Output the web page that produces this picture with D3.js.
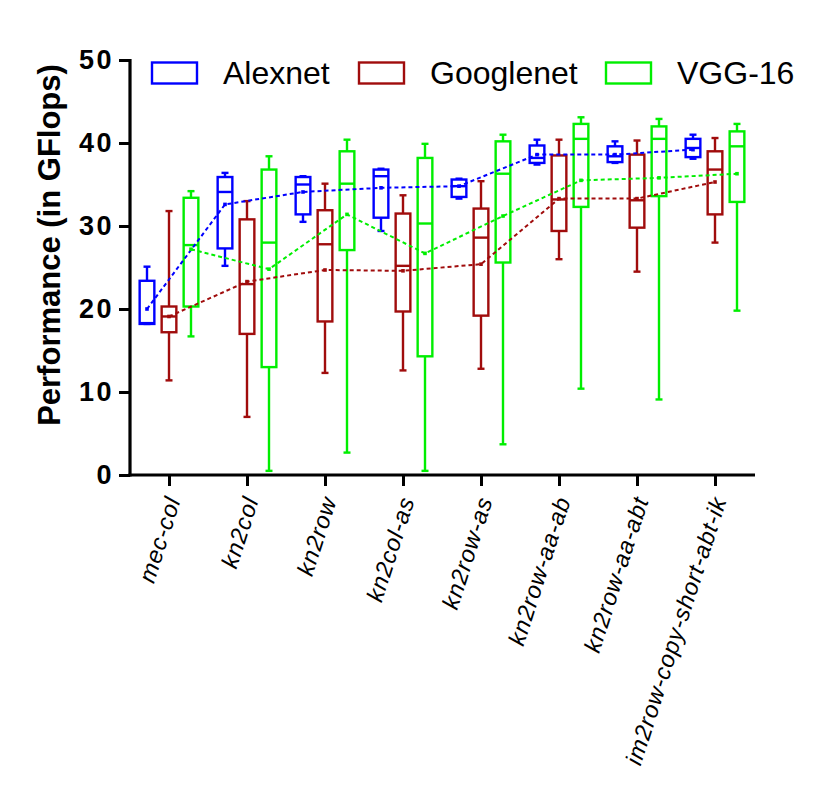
<!DOCTYPE html>
<html>
<head>
<meta charset="utf-8">
<script src="https://cdn.jsdelivr.net/npm/d3@7"></script>
<style>
  body { margin: 0; background: #fff; }
  text { font-family: "Liberation Sans", Arial, Helvetica, sans-serif; }
</style>
</head>
<body>
<svg width="830" height="796"></svg>
<script>
// categories along the x axis
const categories = ["mec-col", "kn2col", "kn2row", "kn2col-as", "kn2row-as", "kn2row-aa-ab", "kn2row-aa-abt", "im2row-copy-short-abt-ik"]
const seriesNames = ["Alexnet", "Googlenet", "VGG-16"]
const seriesColors = ["#0000ff", "#a00c0c", "#00ee00"]

// [whisker low, Q1, median, Q3, whisker high] per category
const alexnetBox = [[18.2, 18.2, 18.3, 23.4, 25.1], [25.2, 27.3, 34.1, 35.9, 36.4], [30.5, 31.4, 35.0, 35.9, 36.0], [29.4, 31.0, 36.0, 36.8, 36.9],
  [33.3, 33.5, 34.8, 35.6, 35.7], [37.4, 37.6, 38.2, 39.7, 40.4], [37.6, 37.7, 38.4, 39.6, 40.2], [38.1, 38.3, 39.4, 40.5, 41.0]]
const googlenetBox = [[11.4, 17.2, 19.1, 20.3, 31.8], [7.0, 17.0, 23.0, 30.8, 33.0], [12.3, 18.5, 27.8, 31.9, 35.1], [12.6, 19.7, 25.2, 31.5, 33.7],
  [12.8, 19.2, 28.6, 32.1, 35.4], [26.0, 29.4, 33.2, 38.5, 40.4], [24.5, 29.8, 33.1, 38.6, 40.3], [28.0, 31.4, 36.8, 39.0, 40.6]]
const vggBox = [[16.7, 20.3, 27.7, 33.4, 34.2], [0.5, 13.0, 28.0, 36.8, 38.4], [2.7, 27.1, 35.1, 39.0, 40.4], [0.5, 14.3, 30.3, 38.2, 39.9],
  [3.7, 25.6, 36.3, 40.2, 41.0], [10.4, 32.3, 40.5, 42.3, 43.1], [9.1, 33.6, 40.5, 42.0, 42.9], [19.8, 32.9, 39.6, 41.4, 42.3]]

// mean values (dashed lines)
const alexnetMean = [20.0, 32.6, 34.1, 34.6, 34.8, 38.6, 38.6, 39.2]
const googlenetMean = [19.1, 23.3, 24.7, 24.6, 25.4, 33.3, 33.3, 35.3]
const vggMean = [27.2, 24.8, 31.4, 26.7, 31.2, 35.5, 35.8, 36.3]

const yTicks = [0, 10, 20, 30, 40, 50]

const boxes = [alexnetBox, googlenetBox, vggBox]
const means = [alexnetMean, googlenetMean, vggMean]

const svg = d3.select("svg")

const x = d3.scalePoint().domain(categories).range([130, 754]).padding(0.5)
const offset = d3.scaleBand().domain(seriesNames).range([-33, 33])
const y = d3.scaleLinear().domain([0, 50]).range([475, 60])

const boxW = 14.7
const capW = 7

seriesNames.forEach((s, si) => {
  const g = svg.append("g").attr("stroke", seriesColors[si]).attr("stroke-width", 2.4).attr("fill", "none")
  boxes[si].forEach((b, i) => {
    const cx = x(categories[i]) + offset(s) + offset.bandwidth() / 2
    // whiskers
    g.append("line").attr("x1", cx).attr("x2", cx).attr("y1", y(b[3])).attr("y2", y(b[4]))
    g.append("line").attr("x1", cx).attr("x2", cx).attr("y1", y(b[1])).attr("y2", y(b[0]))
    g.append("line").attr("x1", cx - capW / 2).attr("x2", cx + capW / 2).attr("y1", y(b[4])).attr("y2", y(b[4]))
    g.append("line").attr("x1", cx - capW / 2).attr("x2", cx + capW / 2).attr("y1", y(b[0])).attr("y2", y(b[0]))
    // box
    g.append("rect")
      .attr("x", cx - boxW / 2).attr("y", y(b[3]))
      .attr("width", boxW).attr("height", y(b[1]) - y(b[3]))
    g.append("line").attr("x1", cx - boxW / 2).attr("x2", cx + boxW / 2).attr("y1", y(b[2])).attr("y2", y(b[2]))
  })
})

// dashed mean lines and markers on top
seriesNames.forEach((s, si) => {
  const cx = c => x(c) + offset(s) + offset.bandwidth() / 2
  const line = d3.line().x((d, i) => cx(categories[i])).y(d => y(d))
  svg.append("path")
    .attr("d", line(means[si]))
    .attr("fill", "none")
    .attr("stroke", seriesColors[si])
    .attr("stroke-width", 2)
    .attr("stroke-dasharray", "4,3")
  svg.append("g").selectAll("rect")
    .data(means[si])
    .enter().append("rect")
    .attr("x", (d, i) => cx(categories[i]) - 1.8)
    .attr("y", d => y(d) - 1.8)
    .attr("width", 3.6).attr("height", 3.6)
    .attr("fill", seriesColors[si])
})

// axes
const yAxis = svg.append("g")
  .attr("transform", "translate(130,0)")
  .call(d3.axisLeft(y).tickValues(yTicks).tickSize(11).tickPadding(5))
yAxis.select(".domain").attr("stroke-width", 3.2).attr("d", "M0," + 59 + "V" + 476.5)
yAxis.selectAll(".tick line").attr("stroke-width", 3)
yAxis.selectAll(".tick text")
  .attr("font-size", 27).attr("font-weight", "bold").attr("fill", "#000")
  .style("letter-spacing", "2.5px")

const xAxis = svg.append("g")
  .attr("transform", "translate(0,475)")
  .call(d3.axisBottom(x).tickSize(11).tickFormat(""))
xAxis.select(".domain").attr("stroke-width", 3.2).attr("d", "M128.5,0H755")
xAxis.selectAll(".tick line").attr("stroke-width", 3)

svg.append("g").selectAll("text")
  .data(categories)
  .enter().append("text")
  .attr("transform", d => "translate(" + (x(d) + 12) + ",500) rotate(-72)")
  .attr("text-anchor", "end")
  .attr("font-size", 23.5)
  .attr("font-style", "italic")
  .style("letter-spacing", "0.9px")
  .text(d => d)

svg.append("text")
  .attr("transform", "translate(60,245) rotate(-90)")
  .attr("text-anchor", "middle")
  .attr("font-size", 31)
  .attr("font-weight", "bold")
  .text("Performance (in GFlops)")

// legend
const legendX = [152, 359, 606]
seriesNames.forEach((s, si) => {
  svg.append("rect")
    .attr("x", legendX[si]).attr("y", 62.5)
    .attr("width", 45).attr("height", 21)
    .attr("fill", "none")
    .attr("stroke", seriesColors[si])
    .attr("stroke-width", 2.4)
  svg.append("text")
    .attr("x", legendX[si] + 71).attr("y", 84)
    .attr("font-size", 32)
    .text(s)
})
</script>
</body>
</html>
